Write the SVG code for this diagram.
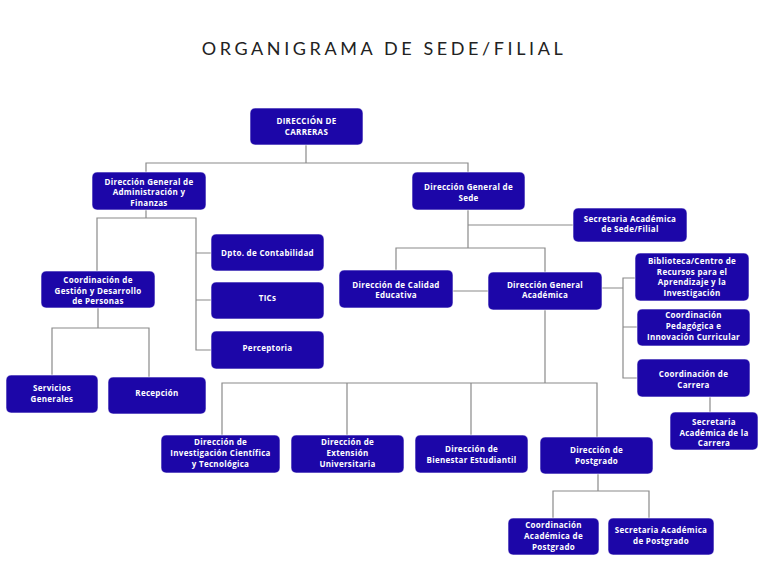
<svg xmlns="http://www.w3.org/2000/svg" width="768" height="576" viewBox="0 0 768 576">
<style>
.b{fill:#1c06a8;stroke:#ffffff;stroke-width:0.6}
.t{font-family:"Open Sans","Liberation Sans",sans-serif;font-weight:700;font-size:8px;fill:#ffffff;text-anchor:middle;letter-spacing:0.3px}
.c{fill:none;stroke:#8a8a8a;stroke-width:1.2}
</style>
<rect width="768" height="576" fill="#ffffff"/>
<text x="384" y="55" font-family="Lato,'Liberation Sans',sans-serif" font-size="18" fill="#222222" text-anchor="middle" letter-spacing="3.6">ORGANIGRAMA DE SEDE/FILIAL</text>
<g id="connectors">
<path class="c" d="M306 145V163M146 172V163H468V172"/>
<path class="c" d="M146 210V218M97 271V218H196V350H211M196 253H211M196 300H211"/>
<path class="c" d="M98 308V328M52 375V328H149V377"/>
<path class="c" d="M468 210V248M468 225H573M396 270V248H545V272M453 291H488"/>
<path class="c" d="M602 288H623M635 278H623V378H637M623 327H637M710 397V412"/>
<path class="c" d="M545 310V383M222 435V383H597V437M347 383V435M471 383V435"/>
<path class="c" d="M598 474V491M553 518V491H649V518"/>
</g>
<g id="n1"><rect class="b" x="250" y="108" width="113" height="37" rx="5"/><text class="t" x="306.5" y="124">DIRECCIÓN DE</text><text class="t" x="306.5" y="135">CARRERAS</text></g>
<g id="n2"><rect class="b" x="92" y="172" width="114" height="38" rx="5"/><text class="t" x="149" y="185">Dirección General de</text><text class="t" x="149" y="195">Administración y</text><text class="t" x="149" y="206">Finanzas</text></g>
<g id="n3"><rect class="b" x="211" y="234" width="113" height="37" rx="5"/><text class="t" x="267.5" y="256">Dpto. de Contabilidad</text></g>
<g id="n4"><rect class="b" x="211" y="282" width="113" height="37" rx="5"/><text class="t" x="267.5" y="301">TICs</text></g>
<g id="n5"><rect class="b" x="211" y="331" width="113" height="38" rx="5"/><text class="t" x="267.5" y="351">Perceptoria</text></g>
<g id="n6"><rect class="b" x="41" y="271" width="114" height="37" rx="5"/><text class="t" x="98" y="283">Coordinación de</text><text class="t" x="98" y="294">Gestión y Desarrollo</text><text class="t" x="98" y="304">de Personas</text></g>
<g id="n7"><rect class="b" x="6" y="375" width="92" height="38" rx="5"/><text class="t" x="52" y="391">Servicios</text><text class="t" x="52" y="402">Generales</text></g>
<g id="n8"><rect class="b" x="108" y="377" width="98" height="37" rx="5"/><text class="t" x="157" y="396">Recepción</text></g>
<g id="n9"><rect class="b" x="412" y="172" width="113" height="38" rx="5"/><text class="t" x="468.5" y="190">Dirección General de</text><text class="t" x="468.5" y="201">Sede</text></g>
<g id="n10"><rect class="b" x="573" y="208" width="114" height="34" rx="5"/><text class="t" x="630" y="222">Secretaria Académica</text><text class="t" x="630" y="232">de Sede/Filial</text></g>
<g id="n11"><rect class="b" x="339" y="270" width="114" height="38" rx="5"/><text class="t" x="396" y="288">Dirección de Calidad</text><text class="t" x="396" y="298">Educativa</text></g>
<g id="n12"><rect class="b" x="488" y="272" width="114" height="38" rx="5"/><text class="t" x="545" y="288">Dirección General</text><text class="t" x="545" y="298">Académica</text></g>
<g id="n13"><rect class="b" x="635" y="253" width="114" height="48" rx="5"/><text class="t" x="692" y="264">Biblioteca/Centro de</text><text class="t" x="692" y="275">Recursos  para el</text><text class="t" x="692" y="285">Aprendizaje y la</text><text class="t" x="692" y="296">Investigación</text></g>
<g id="n14"><rect class="b" x="637" y="309" width="113" height="37" rx="5"/><text class="t" x="693.5" y="318">Coordinación</text><text class="t" x="693.5" y="329">Pedagógica e</text><text class="t" x="693.5" y="340">Innovación Curricular</text></g>
<g id="n15"><rect class="b" x="637" y="359" width="113" height="38" rx="5"/><text class="t" x="693.5" y="377">Coordinación de</text><text class="t" x="693.5" y="388">Carrera</text></g>
<g id="n16"><rect class="b" x="670" y="412" width="88" height="38" rx="5"/><text class="t" x="714" y="425">Secretaria</text><text class="t" x="714" y="436">Académica  de la</text><text class="t" x="714" y="446">Carrera</text></g>
<g id="n17"><rect class="b" x="161" y="435" width="119" height="38" rx="5"/><text class="t" x="220.5" y="445">Dirección de</text><text class="t" x="220.5" y="456">Investigación Científica</text><text class="t" x="220.5" y="467">y Tecnológica</text></g>
<g id="n18"><rect class="b" x="291" y="435" width="113" height="38" rx="5"/><text class="t" x="347.5" y="445">Dirección de</text><text class="t" x="347.5" y="456">Extensión</text><text class="t" x="347.5" y="467">Universitaria</text></g>
<g id="n19"><rect class="b" x="415" y="435" width="113" height="38" rx="5"/><text class="t" x="471.5" y="452">Dirección de</text><text class="t" x="471.5" y="463">Bienestar Estudiantil</text></g>
<g id="n20"><rect class="b" x="540" y="437" width="113" height="37" rx="5"/><text class="t" x="596.5" y="453">Dirección de</text><text class="t" x="596.5" y="464">Postgrado</text></g>
<g id="n21"><rect class="b" x="508" y="518" width="91" height="37" rx="5"/><text class="t" x="553.5" y="528">Coordinación</text><text class="t" x="553.5" y="539">Académica de</text><text class="t" x="553.5" y="550">Postgrado</text></g>
<g id="n22"><rect class="b" x="608" y="518" width="106" height="37" rx="5"/><text class="t" x="661" y="533">Secretaria Académica</text><text class="t" x="661" y="544">de Postgrado</text></g>
</svg>
